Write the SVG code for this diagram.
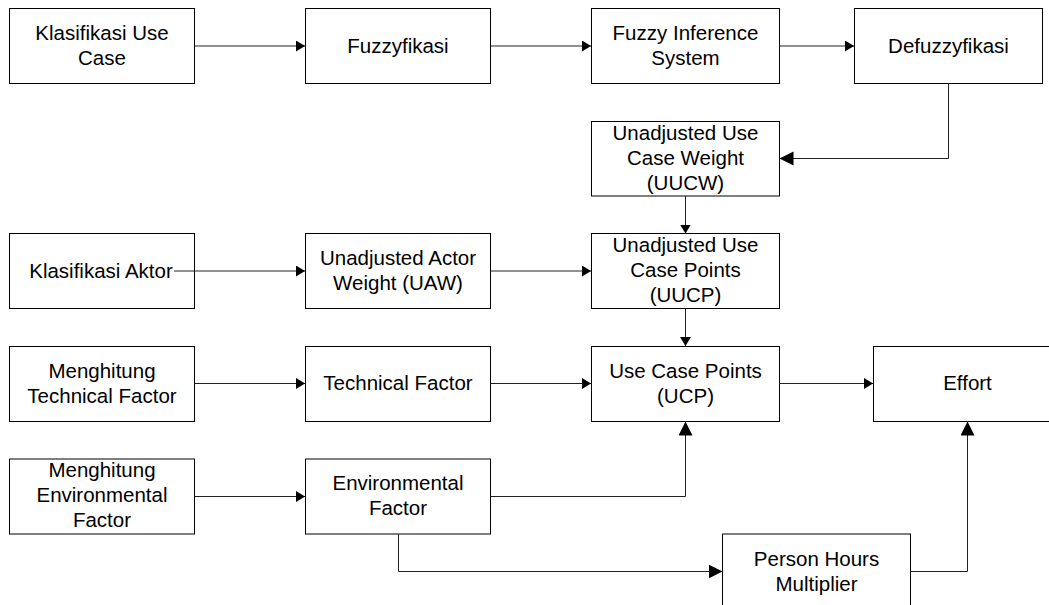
<svg xmlns="http://www.w3.org/2000/svg" width="1049" height="605" viewBox="0 0 1049 605">
<style>
rect{fill:#fff;stroke:#000;stroke-width:1}
text{font-family:"Liberation Sans",Arial,sans-serif;font-size:20.5px;fill:#000;text-anchor:middle}
.c path{fill:none;stroke:#222;stroke-width:1}
</style>
<defs>
<marker id="s" markerUnits="userSpaceOnUse" markerWidth="11" markerHeight="12" refX="9" refY="5.5" orient="auto"><path d="M0,0L9,5.5L0,11Z" fill="#000"/></marker>
<marker id="l" markerUnits="userSpaceOnUse" markerWidth="16" markerHeight="16" refX="14" refY="7" orient="auto"><path d="M0,0L14,7L0,14Z" fill="#000"/></marker>
</defs>
<rect x="0" y="0" width="1049" height="605" style="stroke:none"/>
<g id="n1"><rect x="9.5" y="8.5" width="185" height="75"/><text x="102" y="40">Klasifikasi Use</text><text x="102" y="65">Case</text></g>
<g id="n2"><rect x="305.5" y="8.5" width="185" height="75"/><text x="398" y="53">Fuzzyfikasi</text></g>
<g id="n3"><rect x="591.5" y="8.5" width="188" height="75"/><text x="685.5" y="40">Fuzzy Inference</text><text x="685.5" y="65">System</text></g>
<g id="n4"><rect x="854.5" y="8.5" width="188" height="75"/><text x="948.5" y="53">Defuzzyfikasi</text></g>
<g id="n5"><rect x="591.5" y="121.5" width="188" height="74.5"/><text x="685.5" y="140">Unadjusted Use</text><text x="685.5" y="165">Case Weight</text><text x="685.5" y="190">(UUCW)</text></g>
<g id="n6"><rect x="9.5" y="233.5" width="185" height="75"/><text x="101" y="278">Klasifikasi Aktor</text></g>
<g id="n7"><rect x="305.5" y="233.5" width="185" height="75"/><text x="398" y="265">Unadjusted Actor</text><text x="398" y="290">Weight (UAW)</text></g>
<g id="n8"><rect x="591.5" y="233.5" width="188" height="75"/><text x="685.5" y="252">Unadjusted Use</text><text x="685.5" y="277">Case Points</text><text x="685.5" y="302">(UUCP)</text></g>
<g id="n9"><rect x="9.5" y="346.5" width="185" height="75"/><text x="102" y="378">Menghitung</text><text x="102" y="403">Technical Factor</text></g>
<g id="n10"><rect x="305.5" y="346.5" width="185" height="75"/><text x="398" y="390">Technical Factor</text></g>
<g id="n11"><rect x="591.5" y="346.5" width="188" height="75"/><text x="685.5" y="378">Use Case Points</text><text x="685.5" y="403">(UCP)</text></g>
<g id="n12"><rect x="873.5" y="346.5" width="188" height="75"/><text x="967.5" y="390">Effort</text></g>
<g id="n13"><rect x="9.5" y="459" width="185" height="75"/><text x="102" y="477">Menghitung</text><text x="102" y="502">Environmental</text><text x="102" y="527">Factor</text></g>
<g id="n14"><rect x="305.5" y="459" width="185" height="75"/><text x="398" y="490">Environmental</text><text x="398" y="515">Factor</text></g>
<g id="n15"><rect x="722.5" y="534" width="188" height="75"/><text x="816.5" y="566">Person Hours</text><text x="816.5" y="591">Multiplier</text></g>
<g class="c" id="connectors">
<path d="M194.5,46H305" marker-end="url(#s)"/>
<path d="M490.5,46H591" marker-end="url(#s)"/>
<path d="M779.5,46H854" marker-end="url(#s)"/>
<path d="M948.5,83.5V158.5H779.5" marker-end="url(#l)"/>
<path d="M685.5,196V233.5" marker-end="url(#s)"/>
<path d="M174,271H305" marker-end="url(#s)"/>
<path d="M490.5,271H591" marker-end="url(#s)"/>
<path d="M685.5,308.5V346" marker-end="url(#s)"/>
<path d="M194.5,383.5H305" marker-end="url(#s)"/>
<path d="M490.5,383.5H591" marker-end="url(#s)"/>
<path d="M779.5,383.5H873" marker-end="url(#s)"/>
<path d="M194.5,496.5H305" marker-end="url(#s)"/>
<path d="M490.5,496.5H685.5V421.5" marker-end="url(#l)"/>
<path d="M398.5,534V571.5H722.5" marker-end="url(#l)"/>
<path d="M910.5,571.5H967.5V421.5" marker-end="url(#l)"/>
</g>
</svg>
